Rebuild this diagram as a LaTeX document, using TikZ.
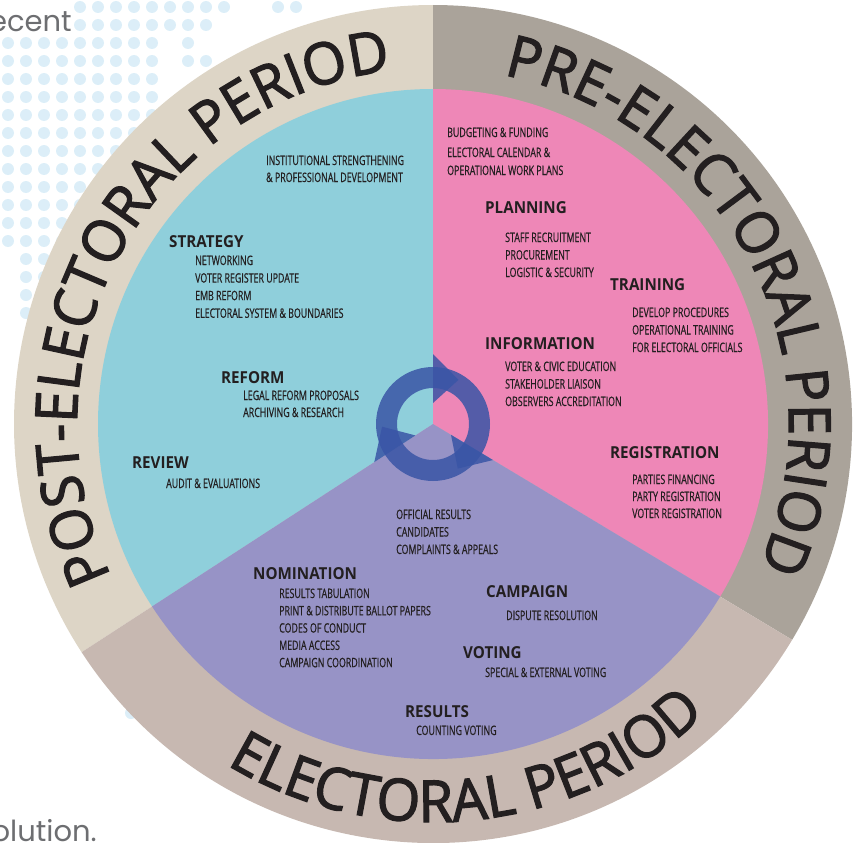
\documentclass[tikz,border=0pt]{standalone}
\usepackage{fontspec}
\usetikzlibrary{decorations.text}
\newfontfamily\ringfont[FakeStretch=0.97,FakeBold=2.2]{Open Sans}
\newfontfamily\headfont[FakeStretch=0.92]{Open Sans}
\newfontfamily\itemfont[FakeStretch=0.68,FakeBold=0.6]{Open Sans}
\newfontfamily\bgfont{Poppins}
\definecolor{cyanpart}{HTML}{8FCFDB}
\definecolor{pinkpart}{HTML}{EE87B7}
\definecolor{purplepart}{HTML}{9793C6}
\definecolor{postring}{HTML}{DDD5C6}
\definecolor{prering}{HTML}{AAA39A}
\definecolor{elecring}{HTML}{C7B8B1}
\definecolor{arrowblue}{HTML}{3A55A6}
\definecolor{dotblue}{HTML}{DCEEF8}
\definecolor{textdark}{HTML}{231F20}
\definecolor{bggray}{HTML}{6D6E71}

\begin{document}
\begin{tikzpicture}
	[x=1pt,y=-1pt,
	head/.style={anchor=base west,inner sep=0pt,text=textdark,font=\headfont\bfseries\fontsize{16.5}{18}\selectfont},
	item/.style={anchor=base west,inner sep=0pt,text=textdark,font=\itemfont\fontsize{13}{14}\selectfont},
	bgtext/.style={anchor=base east,inner sep=0pt,text=bggray,font=\bgfont\fontsize{29}{32}\selectfont},
	ringtext/.style={decorate,decoration={text along path,text align=center,text color=textdark,
		text={|\ringfont\fontsize{58}{60}\selectfont|#1}}}]
	\useasboundingbox (0,0) rectangle (862,843);
	% dotted map behind the wheel
	\foreach \j/\a/\b in {0/4/12,1/4/11,2/0/8,3/0/8,4/0/8,5/0/8,6/0/8,7/0/8,8/0/8,9/0/8,10/0/8,11/0/8,12/0/8,13/0/8,14/1/2,15/1/2,16/1/2,17/1/2}
	\foreach \i in {\a,...,\b}
	\fill[dotblue] (8+18*\i,7+18*\j) circle (6);
	\foreach \x/\y in {278/7,296/7,188/43,188/61,206/61,131/713}
	\fill[dotblue] (\x,\y) circle (6);
	\node[bgtext] (ecent) at (72,32) {ecent};
	\node[bgtext] (olution) at (97,841) {olution.};
	
	\begin{scope}[shift={(433,424)},y=1pt]
		% outer ring
		\fill[postring] (0,0) -- (90:419) arc[start angle=90,end angle=213,radius=419] -- cycle;
		\fill[prering] (0,0) -- (-31:419) arc[start angle=-31,end angle=90,radius=419] -- cycle;
		\fill[elecring] (0,0) -- (213:419) arc[start angle=213,end angle=329,radius=419] -- cycle;
		% inner sectors
		\fill[cyanpart] (0,0) -- (90:335) arc[start angle=90,end angle=213,radius=335] -- cycle;
		\fill[pinkpart] (0,0) -- (-31:335) arc[start angle=-31,end angle=90,radius=335] -- cycle;
		\fill[purplepart] (0,0) -- (213:335) arc[start angle=213,end angle=329,radius=335] -- cycle;
		
		\path[ringtext=POST-ELECTORAL PERIOD] (211:356) arc[start angle=211,end angle=91,radius=356];
		\path[ringtext=PRE-ELECTORAL PERIOD] (88:356) arc[start angle=88,end angle=-33,radius=356];
		\path[ringtext=ELECTORAL PERIOD] (216:398) arc[start angle=216,end angle=336,radius=398];
		
		% cycle arrow
		\fill[arrowblue,opacity=.85,even odd rule] (0,0) circle (57) (0,0) circle (36);
		\foreach \a in {90,-31,213}
		\fill[arrowblue,opacity=.85] (\a:21) -- (\a:70) -- ({\a-30}:51) -- cycle;
	\end{scope}
	
	% post-electoral
	\node[item] (inst1) at (266,165) {INSTITUTIONAL STRENGTHENING};
	\node[item] (inst2) at (266,182) {\& PROFESSIONAL DEVELOPMENT};
	\node[head] (strategy) at (169,247) {STRATEGY};
	\foreach \t [count=\k from 0] in {NETWORKING,VOTER REGISTER UPDATE,EMB REFORM,ELECTORAL SYSTEM \& BOUNDARIES}
	\node[item] (strat\k) at (195,265+17.6*\k) {\t};
	\node[head] (reform) at (221,383) {REFORM};
	\node[item] (ref0) at (243,400) {LEGAL REFORM PROPOSALS};
	\node[item] (ref1) at (243,417) {ARCHIVING \& RESEARCH};
	\node[head] (review) at (132,468) {REVIEW};
	\node[item] (rev0) at (166,488) {AUDIT \& EVALUATIONS};
	
	% pre-electoral
	\node[item] (budget) at (447,137) {BUDGETING \& FUNDING};
	\node[item] (cal1) at (447,157) {ELECTORAL CALENDAR \&};
	\node[item] (cal2) at (447,175) {OPERATIONAL WORK PLANS};
	\node[head] (planning) at (485,213) {PLANNING};
	\foreach \t [count=\k from 0] in {STAFF RECRUITMENT,PROCUREMENT,LOGISTIC \& SECURITY}
	\node[item] (plan\k) at (505,242+17.5*\k) {\t};
	\node[head] (training) at (610,290) {TRAINING};
	\foreach \t [count=\k from 0] in {DEVELOP PROCEDURES,OPERATIONAL TRAINING,FOR ELECTORAL OFFICIALS}
	\node[item] (train\k) at (632,317+17.5*\k) {\t};
	\node[head] (information) at (485,349) {INFORMATION};
	\foreach \t [count=\k from 0] in {VOTER \& CIVIC EDUCATION,STAKEHOLDER LIAISON,OBSERVERS ACCREDITATION}
	\node[item] (info\k) at (505,371+17.5*\k) {\t};
	\node[head] (registration) at (610,458) {REGISTRATION};
	\foreach \t [count=\k from 0] in {PARTIES FINANCING,PARTY REGISTRATION,VOTER REGISTRATION}
	\node[item] (reg\k) at (632,484+17*\k) {\t};
	
	% electoral
	\foreach \t [count=\k from 0] in {OFFICIAL RESULTS,CANDIDATES,COMPLAINTS \& APPEALS}
	\node[item] (off\k) at (396,519+17.5*\k) {\t};
	\node[head] (nomination) at (253,579) {NOMINATION};
	\foreach \t [count=\k from 0] in {RESULTS TABULATION,PRINT \& DISTRIBUTE BALLOT PAPERS,CODES OF CONDUCT,MEDIA ACCESS,CAMPAIGN COORDINATION}
	\node[item] (nom\k) at (279,598+17.3*\k) {\t};
	\node[head] (campaign) at (486,597) {CAMPAIGN};
	\node[item] (camp0) at (506,620) {DISPUTE RESOLUTION};
	\node[head] (voting) at (463,658) {VOTING};
	\node[item] (vot0) at (485,677) {SPECIAL \& EXTERNAL VOTING};
	\node[head] (results) at (405,717) {RESULTS};
	\node[item] (res0) at (416,735) {COUNTING VOTING};
\end{tikzpicture}
\end{document}
